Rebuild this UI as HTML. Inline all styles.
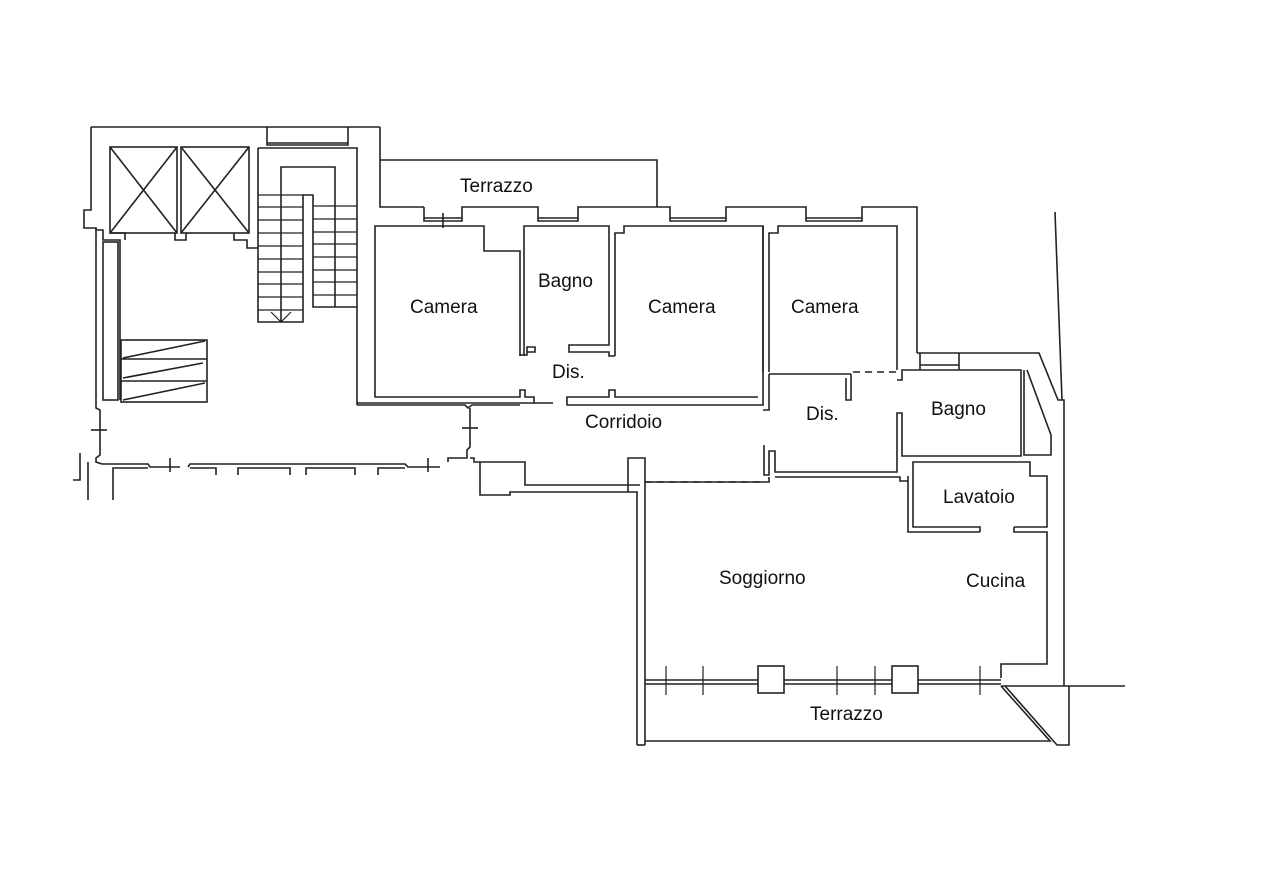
<!DOCTYPE html>
<html><head><meta charset="utf-8"><style>
body{margin:0;background:#fff;}
svg{display:block}
text{font-family:"Liberation Sans",sans-serif;font-size:19px;fill:#111}
</style></head><body>
<svg width="1280" height="870" viewBox="0 0 1280 870" xmlns="http://www.w3.org/2000/svg">
<g fill="none" stroke="#222" stroke-width="1.6">
<polyline points="380,127 380,207 424,207"/>
<polyline points="91,127 380,127"/>
<polyline points="91,127 91,210 84,210 84,228 96,228 96,400"/>
<polyline points="267,127 267,145 348,145 348,127"/>
<line x1="267" y1="143" x2="348" y2="143"/>
<rect x="110" y="147" width="67" height="86"/>
<line x1="110" y1="147" x2="177" y2="233"/><line x1="177" y1="147" x2="110" y2="233"/>
<rect x="181" y="147" width="68" height="86"/>
<line x1="181" y1="147" x2="249" y2="233"/><line x1="249" y1="147" x2="181" y2="233"/>
<polyline points="96,228 96,230 103,230 103,240 120,240 120,400"/>
<polyline points="110,233 125,233 125,240"/>
<polyline points="175,233 175,240 186,240 186,233"/>
<polyline points="234,233 234,240 247,240 247,248 258,248"/>
<rect x="103" y="242" width="15" height="158"/>
<polyline points="258,148 357,148 357,405"/>
<polyline points="258,148 258,322 303,322 303,195 313,195 313,307 357,307"/>
<polyline points="281,322 281,167 335,167 335,307"/>
<g stroke-width="1.2">
<line x1="258" y1="195" x2="303" y2="195"/><line x1="258" y1="207" x2="303" y2="207"/><line x1="258" y1="220" x2="303" y2="220"/><line x1="258" y1="233" x2="303" y2="233"/><line x1="258" y1="246" x2="303" y2="246"/><line x1="258" y1="259" x2="303" y2="259"/><line x1="258" y1="272" x2="303" y2="272"/><line x1="258" y1="284" x2="303" y2="284"/><line x1="258" y1="297" x2="303" y2="297"/><line x1="258" y1="310" x2="303" y2="310"/>
<line x1="313" y1="206" x2="357" y2="206"/><line x1="313" y1="219" x2="357" y2="219"/><line x1="313" y1="232" x2="357" y2="232"/><line x1="313" y1="244" x2="357" y2="244"/><line x1="313" y1="257" x2="357" y2="257"/><line x1="313" y1="270" x2="357" y2="270"/><line x1="313" y1="282" x2="357" y2="282"/><line x1="313" y1="295" x2="357" y2="295"/>
<polyline points="271,312 281,322 291,312"/>
</g>
<rect x="121" y="340" width="86" height="62"/>
<line x1="121" y1="359" x2="207" y2="359"/><line x1="121" y1="381" x2="207" y2="381"/>
<line x1="123" y1="358" x2="205" y2="341"/><line x1="123" y1="378" x2="203" y2="363"/><line x1="123" y1="400" x2="205" y2="383"/>
<polyline points="96,400 96,408 100,410 100,455 96,458 96,462 102,464"/>
<line x1="91" y1="430" x2="107" y2="430"/>
<polyline points="80,453 80,480 73,480"/>
<polyline points="88,462 88,500"/>
<polyline points="102,464 148,464 150,467 180,467"/>
<line x1="170" y1="458" x2="170" y2="472"/>
<polyline points="188,467 190,464 405,464 408,467 440,467"/>
<line x1="428" y1="458" x2="428" y2="472"/>
<polyline points="113,500 113,468 148,468"/>
<polyline points="190,468 216,468 216,475"/><polyline points="238,475 238,468 290,468 290,475"/><polyline points="306,475 306,468 355,468 355,475"/><polyline points="378,475 378,468 405,468"/>
<polyline points="357,405 465,405 468,408 472,405 520,405"/>
<polyline points="470,408 470,447 467,450 467,458 448,458 448,462"/>
<line x1="462" y1="428" x2="478" y2="428"/>
<polyline points="470,458 474,458 474,462 525,462 525,485 640,485"/>
<polyline points="480,462 480,495 510,495 510,492 637,492 637,745"/>
<polyline points="628,492 628,458 645,458 645,745"/>
<polyline points="380,160 657,160 657,207"/>
<polyline points="424,207 424,221 462,221 462,207 538,207 538,221 578,221 578,207 670,207 670,221 726,221 726,207 806,207 806,221 862,221 862,207 917,207 917,353"/>
<line x1="424" y1="218" x2="462" y2="218"/><line x1="538" y1="218" x2="578" y2="218"/><line x1="670" y1="218" x2="726" y2="218"/><line x1="806" y1="218" x2="862" y2="218"/>
<line x1="443" y1="213" x2="443" y2="228"/>
<polyline points="520,356 520,251 484,251 484,226 375,226 375,397 520,397 520,390 525,390 525,397 534,397 534,403 357,403"/>
<polyline points="520,356 520,355 527,355 527,347 535,347 535,352 527,352"/>
<polyline points="524,356 524,226 609,226 609,345 569,345 569,352 609,352 609,356 615,356"/>
<polyline points="615,356 615,233 624,233 624,226 763,226 763,405 567,405 567,397 609,397 609,390 615,390 615,397 758,397"/>
<polyline points="534,403 553,403"/>
<polyline points="763,226 763,372"/>
<polyline points="769,372 769,233 778,233 778,226 897,226 897,370"/>
<line x1="769" y1="374" x2="851" y2="374"/>
<line x1="853" y1="372" x2="897" y2="372" stroke-dasharray="7,5"/>
<polyline points="851,374 851,400 846,400 846,378"/>
<polyline points="769,374 769,410 763,410"/>
<polyline points="764,445 764,475 769,475 769,451 775,451 775,472 897,472 897,413 902,413 902,456 1021,456 1021,370 902,370 902,380 897,380"/>
<polyline points="917,353 1039,353 1058,400 1064,400 1064,686"/>
<polyline points="920,353 920,370"/><polyline points="959,353 959,370"/><line x1="920" y1="365" x2="959" y2="365"/>
<polyline points="1024,370 1024,455 1051,455 1051,435 1027,370"/>
<line x1="1055" y1="212" x2="1062" y2="400"/>
<polyline points="908,476 908,532 980,532"/>
<polyline points="913,476 913,462 1030,462 1030,476 1047,476 1047,527 1014,527"/>
<polyline points="913,476 913,527 980,527 980,532"/>
<polyline points="1014,527 1014,532 1047,532 1047,664 1001,664 1001,678"/>
<polyline points="775,477 900,477 900,481 908,481"/>
<line x1="645" y1="482" x2="763" y2="482" stroke-dasharray="7,5"/>
<polyline points="645,482 769,482 769,477"/>
<line x1="645" y1="680" x2="1001" y2="680"/>
<line x1="645" y1="684" x2="1001" y2="684"/>
<rect x="758" y="666" width="26" height="27" fill="#fff"/>
<rect x="892" y="666" width="26" height="27" fill="#fff"/>
<g stroke-width="1.2"><line x1="666" y1="666" x2="666" y2="695"/><line x1="703" y1="666" x2="703" y2="695"/><line x1="837" y1="666" x2="837" y2="695"/><line x1="875" y1="666" x2="875" y2="695"/><line x1="980" y1="666" x2="980" y2="695"/></g>
<polyline points="645,741 1050,741 1001,686"/>
<polyline points="1005,686 1057,745 1069,745 1069,686"/>
<line x1="1001" y1="686" x2="1125" y2="686"/>
<polyline points="637,745 645,745"/>
</g>
<text x="460" y="192">Terrazzo</text>
<text x="410" y="313">Camera</text>
<text x="538" y="287">Bagno</text>
<text x="648" y="313">Camera</text>
<text x="791" y="313">Camera</text>
<text x="552" y="378">Dis.</text>
<text x="585" y="428">Corridoio</text>
<text x="806" y="420">Dis.</text>
<text x="931" y="415">Bagno</text>
<text x="943" y="503">Lavatoio</text>
<text x="719" y="584">Soggiorno</text>
<text x="966" y="587">Cucina</text>
<text x="810" y="720">Terrazzo</text>
</svg>
</body></html>
